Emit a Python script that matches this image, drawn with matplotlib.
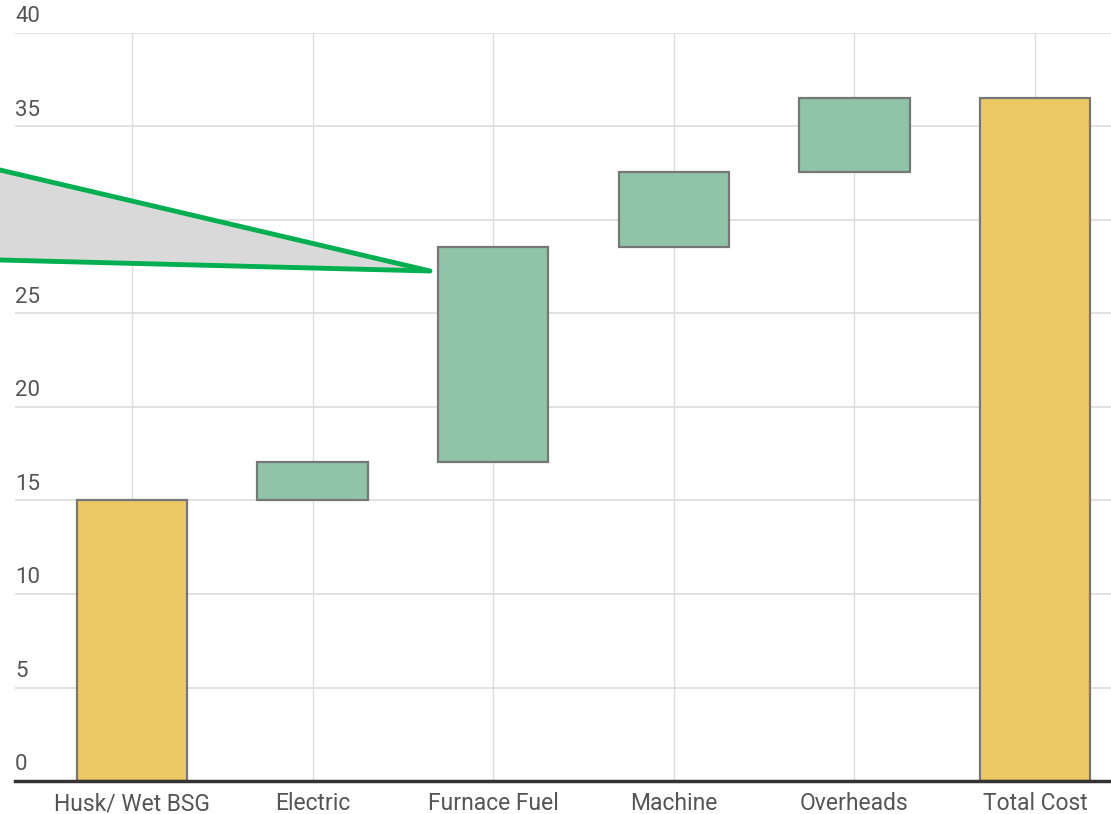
import matplotlib.pyplot as plt
from matplotlib.patches import Polygon
import matplotlib.transforms as mtransforms

plt.rcParams['font.family'] = ['Roboto', 'DejaVu Sans']

# donnees du waterfall
categories = ["Husk/ Wet BSG", "Electric", "Furnace Fuel", "Machine", "Overheads", "Total Cost"]
steps = [15, 2.05, 11.5, 4.0, 4.0]
kinds = ["total", "delta", "delta", "delta", "delta", "total"]
y_ticks = [0, 5, 10, 15, 20, 25, 30, 35, 40]

yellow = "#EDC966"
green = "#8FC4A8"

# bases et hauteurs des barres
bottoms = []
heights = []
running = 0
for i, kind in enumerate(kinds):
    if i < len(steps):
        if kind == "total":
            bottoms.append(0)
            heights.append(steps[i])
        else:
            bottoms.append(running)
            heights.append(steps[i])
        running += steps[i]
    else:
        bottoms.append(0)
        heights.append(running)
colors = [yellow if k == "total" else green for k in kinds]

fig = plt.figure(figsize=(11.11, 8.14), dpi=100)
ax = fig.add_axes([15 / 1111, 1 - 781 / 814, 1 - 15 / 1111, (781 - 33) / 814])

x = list(range(len(categories)))
ax.bar(x, heights, bottom=bottoms, width=0.61, color=colors,
       edgecolor="#777777", linewidth=1.6, zorder=3)

ax.set_xlim(-0.647, 5.42)
ax.set_ylim(0, 40)

# grille
for t in y_ticks[1:]:
    ax.axhline(t, color="#dddddd", linewidth=1.2, zorder=1)
for xi in x:
    ax.axvline(xi, color="#dddddd", linewidth=1.0, zorder=1)
ax.axhline(0, color="#333333", linewidth=2.5, zorder=4, clip_on=False)

for s in ax.spines.values():
    s.set_visible(False)
ax.set_yticks([])
ax.set_xticks(x)
ax.set_xticklabels(categories, fontsize=16.5, color="#555555")
ax.tick_params(axis="x", length=0, pad=8)

# etiquettes y au-dessus des lignes
trans = mtransforms.blended_transform_factory(ax.transAxes, ax.transData)
for t in y_ticks:
    ax.text(0, t + 0.3, str(t), transform=trans, ha="left", va="bottom",
            fontsize=16, color="#555555")

# bulle de legende coupee a gauche
pts = [(0, 1 - 170 / 814), (430 / 1111, 1 - 271 / 814), (0, 1 - 260 / 814)]
poly = Polygon(pts, closed=False, facecolor="#d9d9d9", edgecolor="#00B050",
               linewidth=3.5, transform=fig.transFigure, zorder=10,
               joinstyle="round", capstyle="round")
fig.patches.append(poly)

fig.savefig("out.png", dpi=100)
